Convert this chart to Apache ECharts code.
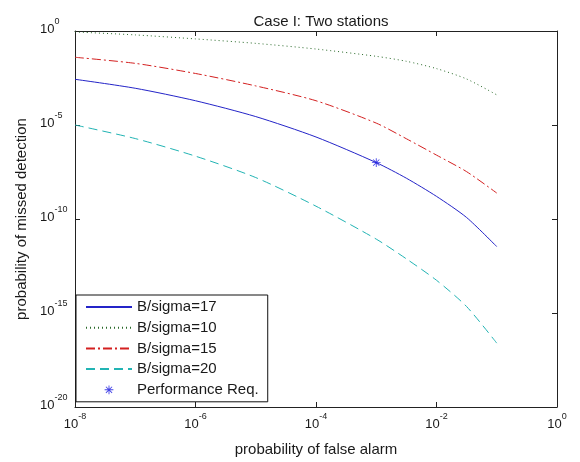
<!DOCTYPE html>
<html>
<head>
<meta charset="utf-8">
<script src="https://cdn.jsdelivr.net/npm/echarts@6/dist/echarts.min.js"></script>
<style>html,body{margin:0;padding:0;background:#fff}#c{width:580px;height:462px}</style>
</head>
<body>
<div id="c"></div>
<script>
// probability of false alarm (x)
var pfa = [1e-8, 1e-7, 1e-6, 1e-5, 1e-4, 1e-3, 3.16e-3, 1e-2, 3.16e-2, 1e-1];
// probability of missed detection for each B/sigma
var pmd17 = [2.7e-3, 9e-4, 1.95e-4, 2.8e-5, 2.3e-6, 1.0e-7, 1.48e-8, 1.6e-9, 1.2e-10, 3.4e-12];
var pmd10 = [0.89, 0.62, 0.38, 0.22, 0.11, 0.045, 0.0245, 0.01, 2.8e-3, 4e-4];
var pmd15 = [0.04, 0.019, 5.5e-3, 1.2e-3, 1.95e-4, 1.26e-5, 1.86e-6, 2.5e-7, 3.3e-8, 2.4e-9];
var pmd20 = [1.0e-5, 1.9e-6, 2.2e-7, 1.6e-8, 4.8e-10, 8.5e-12, 7.6e-13, 5.5e-14, 2.2e-15, 2.5e-17];
var perfReq = [[1e-3, 1e-7]];
var seriesNames = ['B/sigma=17', 'B/sigma=10', 'B/sigma=15', 'B/sigma=20', 'Performance Req.'];
// tick exponents (decades) shown on the axes
var xTickMin = -8, xTickMax = 0, xTickStep = 2;
var yTickMin = -20, yTickMax = 0, yTickStep = 5;

function pairs(xs, ys) { return xs.map(function (x, i) { return [x, ys[i]]; }); }
function expLabel(v) { return '{b|10}{s|' + Math.round(v) + '}'; }

var FONT = '"Liberation Sans", Arial, Helvetica, sans-serif';
var TXT = '#1a1a1a';
var rich = {
  b: { fontSize: 13, fontFamily: FONT, color: TXT, lineHeight: 19, verticalAlign: 'bottom' },
  s: { fontSize: 9, fontFamily: FONT, color: TXT, lineHeight: 19, verticalAlign: 'top' }
};
// asterisk marker (with invisible padding points so the glyph is a bit smaller than its box)
var star = 'path://M-16,-16L-16,-16 M16,16L16,16 ' +
  'M-1,-10L1,-10L1,10L-1,10Z M-10,-1L10,-1L10,1L-10,1Z ' +
  'M-6.36,-7.78L7.78,6.36L6.36,7.78L-7.78,-6.36Z M-7.78,6.36L6.36,-7.78L7.78,-6.36L-6.36,7.78Z';

var lineCol = '#222';
function tickAxis(extra) {
  return Object.assign({
    type: 'value',
    axisLine: { show: true, onZero: false, lineStyle: { color: lineCol, width: 1 } },
    axisTick: { show: true, inside: true, length: 5, lineStyle: { color: lineCol } },
    splitLine: { show: false },
    axisLabel: { show: false }
  }, extra);
}
function curve(i, ys, color, type) {
  return { name: seriesNames[i], type: 'line', xAxisIndex: 2, yAxisIndex: 2, data: pairs(pfa, ys),
    showSymbol: false, symbol: 'none', smooth: 0.25,
    lineStyle: { color: color, width: 1, type: type }, itemStyle: { color: color } };
}

var chart = echarts.init(document.getElementById('c'), null, { renderer: 'canvas' });
chart.setOption({
  animation: false,
  backgroundColor: '#fff',
  title: {
    text: 'Case I: Two stations', left: 316, top: 9, textAlign: 'center',
    textStyle: { fontFamily: FONT, fontSize: 15, fontWeight: 'normal', color: TXT }
  },
  grid: { left: 75, right: 23, top: 31, bottom: 50 },
  xAxis: [
    tickAxis({ position: 'bottom', min: xTickMin, max: xTickMax, interval: xTickStep,
      name: 'probability of false alarm', nameLocation: 'middle', nameGap: 35,
      nameTextStyle: { fontFamily: FONT, fontSize: 15, color: TXT },
      axisLabel: { show: true, margin: 5, formatter: expLabel, rich: rich } }),
    tickAxis({ position: 'top', min: xTickMin, max: xTickMax, interval: xTickStep }),
    { type: 'log', logBase: 10, min: 1e-8, max: 1, show: false }
  ],
  yAxis: [
    tickAxis({ position: 'left', min: yTickMin, max: yTickMax, interval: yTickStep,
      name: 'probability of missed detection', nameLocation: 'middle', nameGap: 44,
      nameTextStyle: { fontFamily: FONT, fontSize: 15, color: TXT },
      axisLabel: { show: true, margin: 35, align: 'left', padding: [0, 0, 9, 0], formatter: expLabel, rich: rich } }),
    tickAxis({ position: 'right', min: yTickMin, max: yTickMax, interval: yTickStep }),
    { type: 'log', logBase: 10, min: 1e-20, max: 1, show: false }
  ],
  legend: {
    orient: 'vertical', left: 76, top: 295,
    backgroundColor: '#fff', borderColor: '#111', borderWidth: 1, borderRadius: 0,
    padding: [3, 9, 3, 9], itemWidth: 46, itemHeight: 14, itemGap: 2.7,
    textStyle: { fontFamily: FONT, fontSize: 15, color: TXT, lineHeight: 18 },
    data: [
      { name: seriesNames[0], itemStyle: { opacity: 0 } },
      { name: seriesNames[1], itemStyle: { opacity: 0 } },
      { name: seriesNames[2], itemStyle: { opacity: 0 } },
      { name: seriesNames[3], itemStyle: { opacity: 0 } },
      { name: seriesNames[4] }
    ]
  },
  series: [
    curve(0, pmd17, '#2424c8', 'solid'),
    curve(1, pmd10, '#2a6a2a', [1, 3]),
    curve(2, pmd15, '#d42020', [9, 3, 2, 3]),
    curve(3, pmd20, '#22b4b4', [9, 5]),
    { name: seriesNames[4], type: 'scatter', xAxisIndex: 2, yAxisIndex: 2, data: perfReq,
      symbol: star, symbolSize: 14, itemStyle: { color: '#1515e0' }, z: 5 }
  ]
});
</script>
</body>
</html>
